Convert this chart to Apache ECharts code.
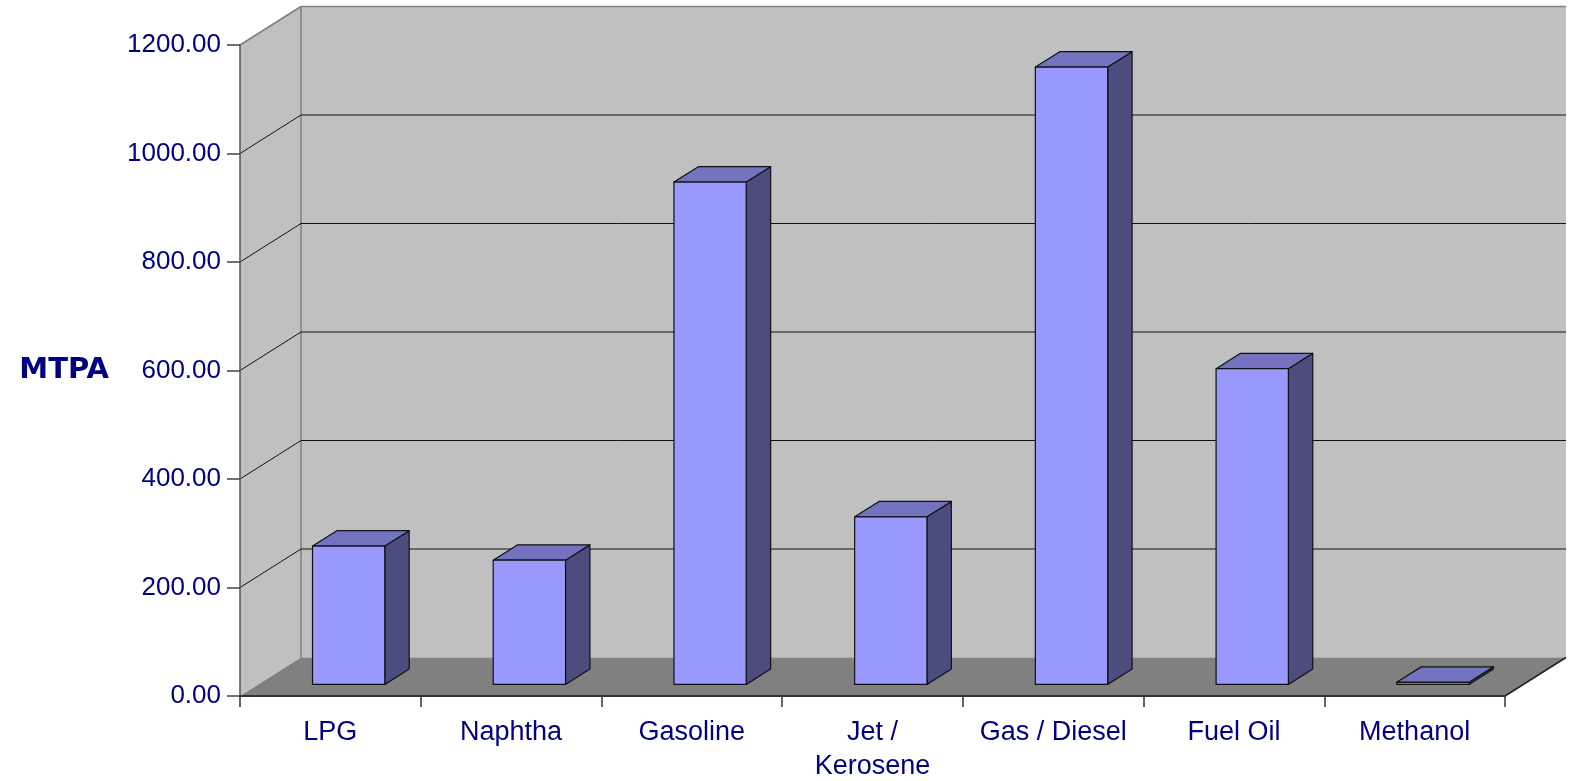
<!DOCTYPE html>
<html>
<head>
<meta charset="utf-8">
<script src="https://cdn.jsdelivr.net/npm/echarts@6/dist/echarts.min.js"></script>
<style>
  html, body { margin: 0; padding: 0; background: #ffffff; }
  #chart { width: 1569px; height: 781px; }
</style>
</head>
<body>
<div id="chart"></div>
<script>
// Product output by category (MTPA)
const categories = ['LPG', 'Naphtha', 'Gasoline', 'Jet /\nKerosene', 'Gas / Diesel', 'Fuel Oil', 'Methanol'];
const values = [255, 229, 926, 309, 1138, 582, 4];
const yMin = 0;
const yMax = 1200;
const yStep = 200;

// Oblique projection of the chart depth (pixels)
const DEPTH_X = 61;
const DEPTH_Y = -38.5;
// Bars sit between 30% and 70% of the depth
const BAR_FRONT = 0.3;
const BAR_DEPTH = 0.4;
const BAR_WIDTH = 0.4;

const NAVY = '#000080';
const WALL = '#c0c0c0';
const FLOOR = '#808080';
const FONT = '"Liberation Sans", Arial, sans-serif';

function renderWalls(params, api) {
  const cs = params.coordSys;
  const x0 = cs.x, x1 = cs.x + cs.width;
  const yTop = cs.y, yBot = cs.y + cs.height;
  const children = [];
  // left side wall
  children.push({
    type: 'polygon',
    shape: { points: [[x0, yTop], [x0 + DEPTH_X, yTop + DEPTH_Y], [x0 + DEPTH_X, yBot + DEPTH_Y], [x0, yBot]] },
    style: { fill: WALL, stroke: null }
  });
  // back wall
  children.push({
    type: 'rect',
    shape: { x: x0 + DEPTH_X, y: yTop + DEPTH_Y, width: cs.width, height: cs.height },
    style: { fill: WALL, stroke: null }
  });
  // floor
  children.push({
    type: 'polygon',
    shape: { points: [[x0, yBot], [x1, yBot], [x1 + DEPTH_X, yBot + DEPTH_Y], [x0 + DEPTH_X, yBot + DEPTH_Y]] },
    style: { fill: FLOOR, stroke: null }
  });
  // floor right edge
  children.push({
    type: 'line',
    shape: { x1: x1, y1: yBot, x2: x1 + DEPTH_X, y2: yBot + DEPTH_Y },
    style: { stroke: '#222', lineWidth: 1.5 }
  });
  // back wall left edge and top edges
  children.push({
    type: 'polyline',
    shape: { points: [[x0 + DEPTH_X, yBot + DEPTH_Y], [x0 + DEPTH_X, yTop + DEPTH_Y], [x1 + DEPTH_X, yTop + DEPTH_Y]] },
    style: { stroke: '#808080', lineWidth: 1.5, fill: null }
  });
  children.push({
    type: 'line',
    shape: { x1: x0, y1: yTop, x2: x0 + DEPTH_X, y2: yTop + DEPTH_Y },
    style: { stroke: '#808080', lineWidth: 1.5 }
  });
  // gridlines on side and back wall
  for (let v = yMin + yStep; v < yMax; v += yStep) {
    const yv = api.coord([0, v])[1];
    children.push({
      type: 'polyline',
      shape: { points: [[x0, yv], [x0 + DEPTH_X, yv + DEPTH_Y], [x1 + DEPTH_X, yv + DEPTH_Y]] },
      style: { stroke: '#111', lineWidth: 1, fill: null }
    });
  }
  return { type: 'group', children: children };
}

function renderBar(params, api) {
  const idx = api.value(0);
  const base = api.coord([idx, 0]);
  const top = api.coord([idx, api.value(1)]);
  const bw = api.size([1, 0])[0] * BAR_WIDTH;
  const left = base[0] - bw / 2 + DEPTH_X * BAR_FRONT;
  const right = left + bw;
  const bottom = base[1] + DEPTH_Y * BAR_FRONT;
  const ytop = top[1] + DEPTH_Y * BAR_FRONT;
  const dx = DEPTH_X * BAR_DEPTH, dy = DEPTH_Y * BAR_DEPTH;
  const edge = { stroke: '#111', lineWidth: 1.2, lineJoin: 'round' };
  return {
    type: 'group',
    children: [
      { type: 'polygon', shape: { points: [[right, ytop], [right + dx, ytop + dy], [right + dx, bottom + dy], [right, bottom]] },
        style: Object.assign({ fill: '#4c4c7f' }, edge) },
      { type: 'polygon', shape: { points: [[left, ytop], [right, ytop], [right + dx, ytop + dy], [left + dx, ytop + dy]] },
        style: Object.assign({ fill: '#7373bf' }, edge) },
      { type: 'rect', shape: { x: left, y: ytop, width: bw, height: bottom - ytop },
        style: Object.assign({ fill: '#9999ff' }, edge) }
    ]
  };
}

const chart = echarts.init(document.getElementById('chart'), null, { renderer: 'canvas' });
chart.setOption({
  animation: false,
  backgroundColor: '#ffffff',
  grid: { left: 240, right: 64, top: 45, bottom: 85, containLabel: false, outerBoundsMode: 'none' },
  xAxis: {
    type: 'category',
    data: categories,
    z: 5,
    axisLine: { show: true, lineStyle: { color: '#333', width: 2 } },
    axisTick: { show: true, length: 11, interval: 0, lineStyle: { color: '#333', width: 1.5 } },
    axisLabel: {
      interval: 0, margin: 20, color: NAVY,
      fontFamily: FONT, fontSize: 27, lineHeight: 34
    },
    splitLine: { show: false }
  },
  yAxis: {
    type: 'value',
    min: yMin, max: yMax, interval: yStep,
    z: 5,
    name: 'MTPA',
    nameLocation: 'middle',
    nameRotate: 0,
    nameGap: 131,
    nameTextStyle: { color: NAVY, fontFamily: 'DejaVu Sans', fontWeight: 'bold', fontSize: 29, align: 'right', verticalAlign: 'middle' },
    axisLine: { show: true, lineStyle: { color: '#555', width: 1.5 } },
    axisTick: { show: true, length: 13, lineStyle: { color: '#444', width: 1.5 } },
    axisLabel: {
      margin: 19, color: NAVY, fontFamily: FONT, fontSize: 26,
      formatter: function (v) { return v.toFixed(2); }
    },
    splitLine: { show: false }
  },
  series: [
    {
      type: 'custom', name: 'walls', z: 0, silent: true, clip: false,
      renderItem: renderWalls,
      data: [[0, 0]],
      encode: { x: 0, y: 1 }
    },
    {
      type: 'custom', name: 'MTPA', z: 10, silent: true, clip: false,
      renderItem: renderBar,
      data: values.map(function (v, i) { return [i, v]; }),
      encode: { x: 0, y: 1 }
    }
  ]
});
</script>
</body>
</html>
